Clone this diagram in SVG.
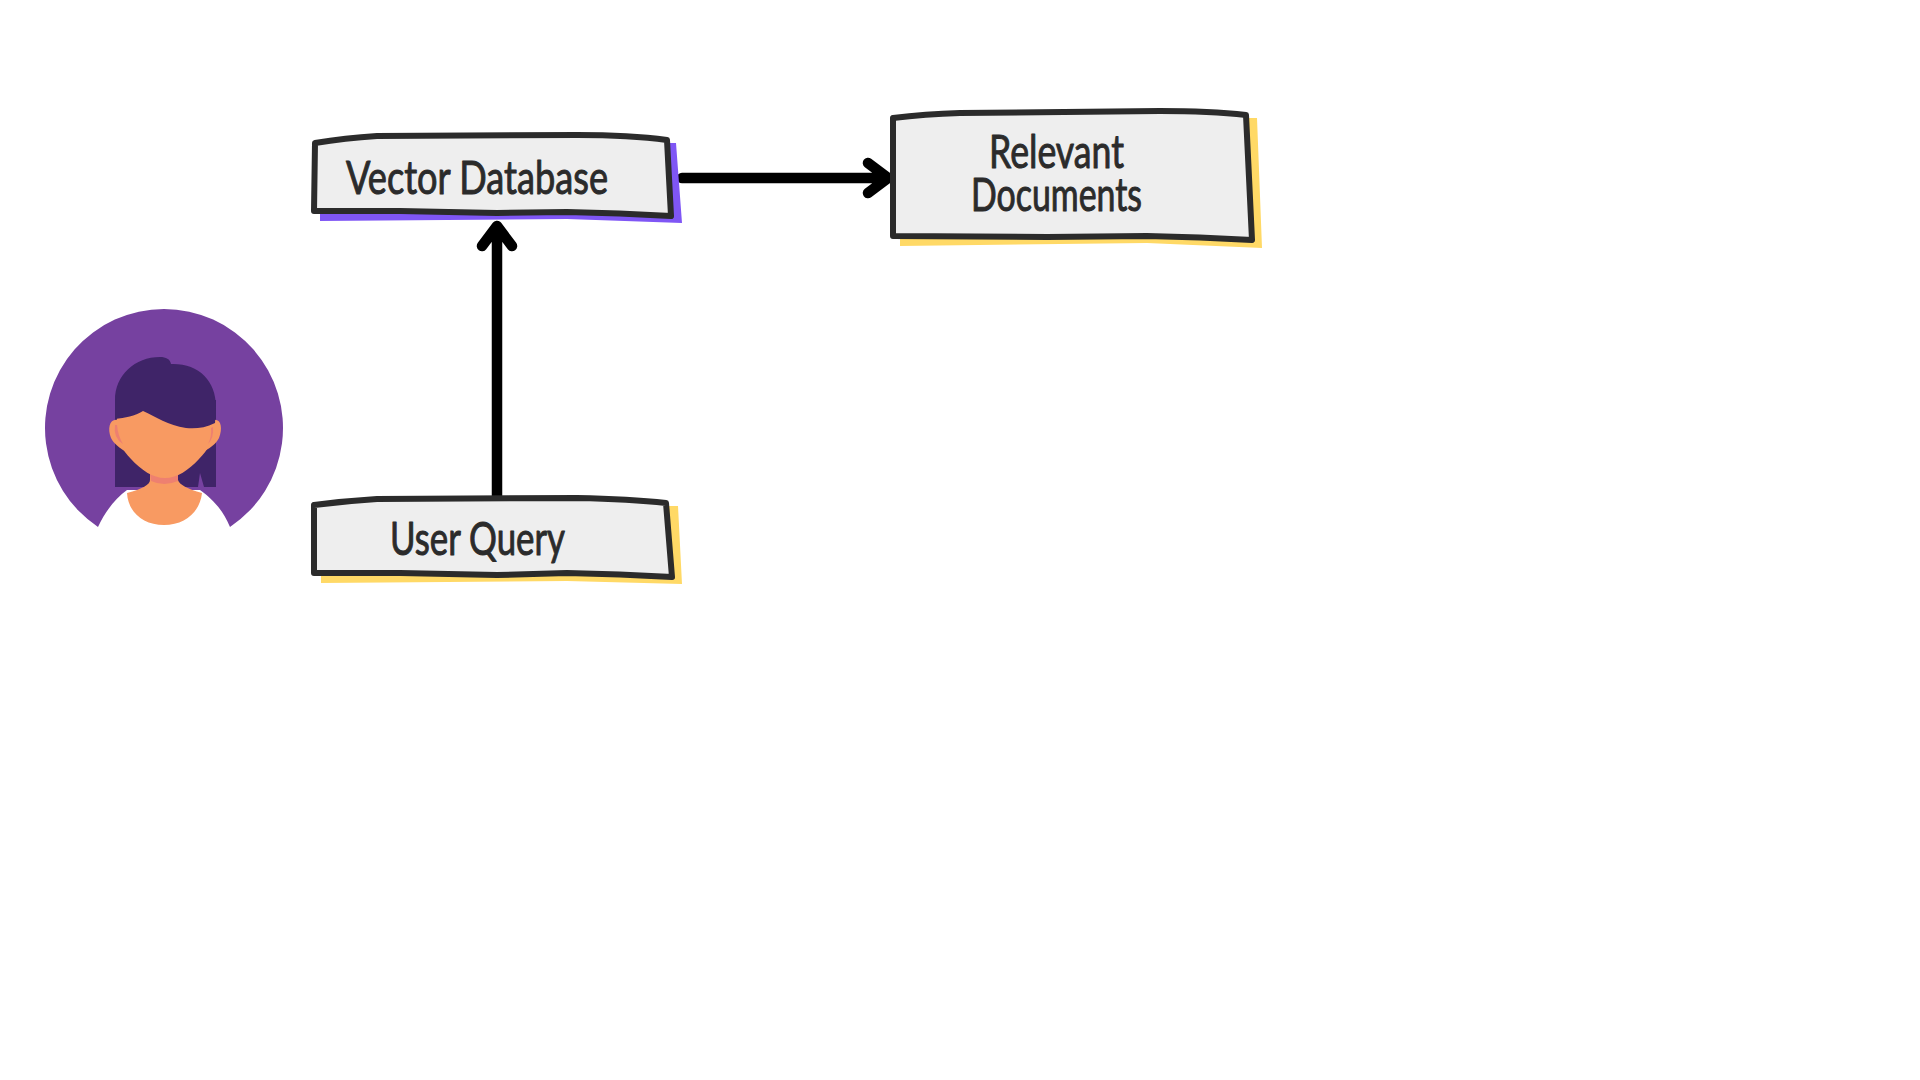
<svg xmlns="http://www.w3.org/2000/svg" width="1920" height="1080" viewBox="0 0 1920 1080">
<style>
.box{fill:#eeeeee;stroke:#2b2b2b;stroke-width:6;stroke-linejoin:round}
.shy{fill:#ffd966}.shp{fill:#7f56f5}
.skin{fill:#f89a62}.hair{fill:#3f2468}.pink{fill:#ee8070}
.t{font-family:"Lato","Liberation Sans",sans-serif;font-size:47px;fill:#2b2b2b;stroke:#2b2b2b;stroke-width:1;stroke-linejoin:round}
.c{fill:none;stroke:#000;stroke-width:10.5;stroke-linecap:round;stroke-linejoin:round}
</style>
<rect width="1920" height="1080" fill="#fff"/>
<g id="avatar">
<path fill="#7641a0" d="M98 527A119 119 0 1 1 230 527C222 508 211 498 200 490L127 490C116 498 106 510 98 527Z"/>
<path class="hair" d="M115 400H216V487H204L200 473L198 487H115Z"/>
<path class="skin" d="M127 493Q150 487 150 480V465H178V480Q180 487 202 493C200 512 185 525 164 525C143 525 128 512 127 493Z"/>
<path class="pink" d="M150 474H178V481Q164 487 151 481Z"/>
<path class="skin" d="M118 420C110 418 107 428 111 438C114 444 120 448 126 452V420Z"/>
<path class="skin" d="M213 420C221 418 223 428 219 438C216 444 211 447 205 451V420Z"/>
<path class="skin" d="M117 405H214V425C214 440 208 450 199 459C189 470 177 478 165 478C153 478 141 470 131 459C122 450 117 440 117 425Z"/>
<path class="pink" d="M115 425Q113 438 123 444Q118 436 117 425ZM213 427Q214 438 208 444Q212 436 211 428Z"/>
<path class="hair" d="M115 419V400C115 375 135 357 160 357C166 357 170 359 171 364C198 363 216 380 216 407L215 423C205 428 195 429 186 428C168 425 156 417 143 411C135 416 125 418 115 419Z"/>
</g>
<g id="connectors">
<path class="c" d="M497 500V226M482 246L497 226L512 246"/>
<path class="c" stroke-linecap="butt" d="M682 178H888M868 163L888 178L868 193"/>
</g>
<g id="node-vector-database">
<path class="shp" d="M668 143L676 143L682 223L567 219L320 221V212H668Z"/>
<path class="box" d="M315 143Q345 138 377 136L577 135Q630 135 667 140L671 216Q620 213 567 212L497 213L400 211L314 211Z"/>
<text class="t" x="346" y="194" textLength="262" lengthAdjust="spacingAndGlyphs">Vector Database</text>
</g>
<g id="node-user-query">
<path class="shy" d="M668 506L678 506L682 584L567 581L321 583V572H668Z"/>
<path class="box" d="M314 505Q345 501 377 499L577 498Q630 499 666 503L672 577Q620 574 567 573L497 575L400 573L314 573Z"/>
<text class="t" x="390" y="555" textLength="175" lengthAdjust="spacingAndGlyphs">User Query</text>
</g>
<g id="node-relevant-documents">
<path class="shy" d="M1248 118L1257 118L1262 248L1147 243L900 246V235H1248Z"/>
<path class="box" d="M893 118Q925 114 960 113L1160 111Q1210 111 1246 115L1252 240Q1200 237 1147 236L1047 237L893 236Z"/>
<text class="t" x="989" y="168" textLength="135" lengthAdjust="spacingAndGlyphs">Relevant</text>
<text class="t" x="971" y="211" textLength="171" lengthAdjust="spacingAndGlyphs">Documents</text>
</g>
</svg>
